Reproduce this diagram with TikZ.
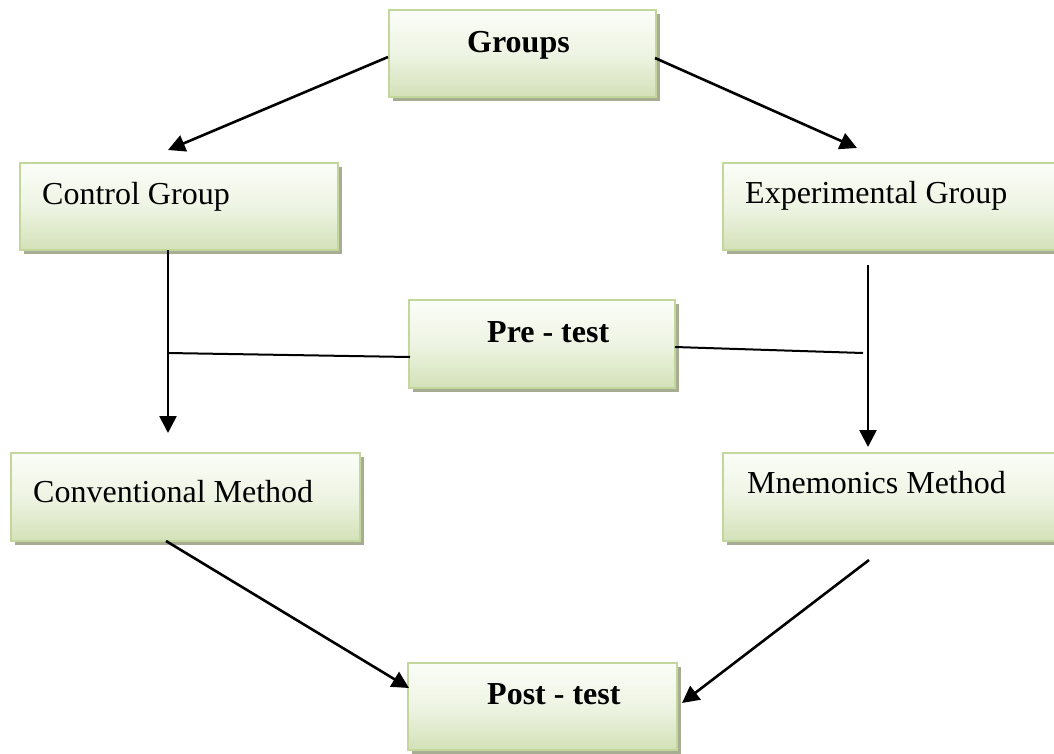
\documentclass[tikz,border=0pt]{standalone}
\usepackage{fontspec}
\setmainfont{Liberation Serif}
\usetikzlibrary{arrows.meta,shadows}
\definecolor{boxtop}{HTML}{FBFDF8}
\definecolor{boxmid}{HTML}{EEF4E3}
\definecolor{boxbot}{HTML}{D3E1B8}
\definecolor{boxline}{HTML}{C3D69B}
\definecolor{shadowc}{HTML}{A6AD92}
\tikzset{
  box/.style={rectangle, draw=boxline, line width=2pt,
    top color=boxtop, bottom color=boxbot, middle color=boxmid,
    drop shadow={shadow xshift=4pt, shadow yshift=-4pt, fill=shadowc, opacity=1},
    inner sep=0pt},
  lbl/.style={anchor=base west, inner sep=0pt, font=\fontsize{32}{38}\selectfont},
  blbl/.style={lbl, font=\fontsize{32}{38}\selectfont\bfseries},
  arr/.style={line width=2.6pt, -{Triangle[length=17pt,width=17pt]}},
  thin line/.style={line width=2pt}
}
\begin{document}
\begin{tikzpicture}[x=1pt,y=-1pt]
\useasboundingbox (0,0) rectangle (1054,753);
\clip (0,0) rectangle (1054,753);
% boxes
\node[box, minimum width=267pt, minimum height=87pt] (grp) at (522.5,53.5) {};
\node[box, minimum width=318pt, minimum height=87pt] (cg) at (179,206.5) {};
\node[box, minimum width=347pt, minimum height=87pt] (eg) at (896.5,206.5) {};
\node[box, minimum width=266pt, minimum height=88pt] (pre) at (542,344) {};
\node[box, minimum width=349pt, minimum height=88pt] (cm) at (185.5,497) {};
\node[box, minimum width=347pt, minimum height=88pt] (mm) at (896.5,497) {};
\node[box, minimum width=269pt, minimum height=87pt] (post) at (542.5,706.5) {};
% labels
\node[blbl] (tgrp) at (467,52) {Groups};
\node[lbl] (tcg) at (42,204) {Control Group};
\node[lbl] (teg) at (745,203) {Experimental Group};
\node[blbl] (tpre) at (487,342) {Pre - test};
\node[lbl] (tcm) at (33,502) {Conventional Method};
\node[lbl] (tmm) at (747,493) {Mnemonics Method};
\node[blbl] (tpost) at (487,704) {Post - test};
% connector end points
\coordinate (g1) at (388,57);
\coordinate (g2) at (655,58);
\coordinate (cgtip) at (168,150);
\coordinate (egtip) at (857,148);
\coordinate (cgb) at (168,250);
\coordinate (cmtip) at (168,433);
\coordinate (egb) at (868,265);
\coordinate (mmtip) at (868,447);
\coordinate (jl) at (168,353);
\coordinate (prel) at (410,357);
\coordinate (prer) at (675,347);
\coordinate (jr) at (863,353);
\coordinate (cmb) at (166,541);
\coordinate (posttipl) at (409,688);
\coordinate (mmb) at (869,560);
\coordinate (posttipr) at (682,703);
% connectors
\draw[arr] (g1) -- (cgtip);
\draw[arr] (g2) -- (egtip);
\draw[arr] (cgb) -- (cmtip);
\draw[arr] (egb) -- (mmtip);
\draw[thin line] (jl) -- (prel);
\draw[thin line] (prer) -- (jr);
\draw[arr] (cmb) -- (posttipl);
\draw[arr] (mmb) -- (posttipr);
\end{tikzpicture}
\end{document}
